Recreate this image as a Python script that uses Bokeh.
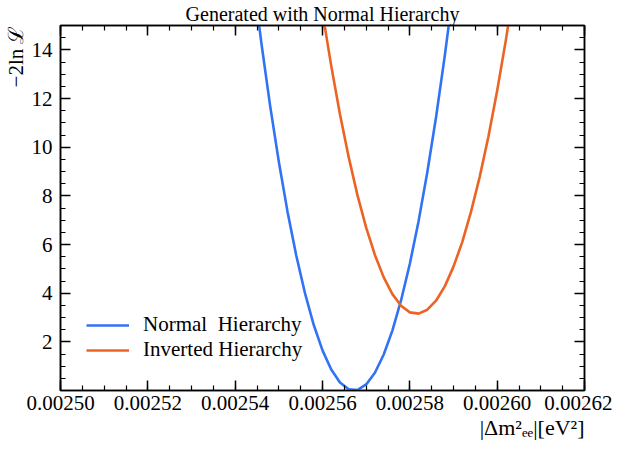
from bokeh.plotting import figure
from bokeh.models import (Range1d, FixedTicker, PrintfTickFormatter, LinearAxis,
                          Legend, LegendItem, Title)
from bokeh.embed import file_html
from bokeh.resources import INLINE

# ---- data ----
title_text = "Generated with Normal Hierarchy"
x_label = "|\u0394m\u00b2\u2091\u2091|[eV\u00b2]"
y_label = "\u22122ln \u2112"
x_ticks = [0.00250, 0.00252, 0.00254, 0.00256, 0.00258, 0.00260, 0.00262]
y_ticks = [2, 4, 6, 8, 10, 12, 14]

nh_x = [0.002540, 0.002542, 0.002544, 0.002546, 0.002548, 0.002550, 0.002552,
        0.002554, 0.002556, 0.002558, 0.002560, 0.002562, 0.002564, 0.002566,
        0.002568, 0.002570, 0.002572, 0.002574, 0.002576, 0.002578, 0.002580,
        0.002582, 0.002584, 0.002586, 0.002588, 0.002590, 0.002592, 0.002594]
nh_y = [23.51, 20.18, 17.10, 14.28, 11.71, 9.40, 7.34, 5.54, 3.99, 2.69, 1.65,
        0.86, 0.33, 0.05, 0.02, 0.25, 0.73, 1.47, 2.46, 3.71, 5.21, 6.96, 8.97,
        11.23, 13.75, 16.52, 19.54, 22.82]

ih_x = [0.002550, 0.002552, 0.002554, 0.002556, 0.002558, 0.002560, 0.002562,
        0.002564, 0.002566, 0.002568, 0.002570, 0.002572, 0.002574, 0.002576,
        0.002578, 0.002580, 0.002582, 0.002584, 0.002586, 0.002588, 0.002590,
        0.002592, 0.002594, 0.002596, 0.002598, 0.002600, 0.002602, 0.002604,
        0.002606, 0.002608]
ih_y = [29.73, 26.46, 23.41, 20.57, 17.94, 15.53, 13.34, 11.35, 9.59, 8.03, 6.69,
        5.57, 4.66, 3.96, 3.48, 3.21, 3.16, 3.32, 3.69, 4.28, 5.09, 6.10, 7.34,
        8.78, 10.44, 12.32, 14.41, 16.71, 19.23, 21.96]

series_labels = ["Normal  Hierarchy", "Inverted Hierarchy"]
BLUE = "#3273f5"
ORANGE = "#eb6424"
FONT = "Liberation Serif"

p = figure(width=612, height=445, output_backend="svg", toolbar_location=None,
           x_range=Range1d(0.00250, 0.00262), y_range=Range1d(0, 15),
           min_border_left=60, min_border_right=28, min_border_top=22,
           min_border_bottom=55, x_axis_location=None, y_axis_location=None)
p.xgrid.grid_line_color = None
p.ygrid.grid_line_color = None
p.outline_line_color = "black"
p.outline_line_width = 1.5
p.background_fill_color = "white"
p.border_fill_color = "white"

p.title.text = title_text
p.title.align = "center"
p.title.text_font = FONT
p.title.text_font_size = "20px"
p.title.text_font_style = "normal"
p.title.text_color = "black"
p.title.standoff = 1

x_minor = [0.00250 + i * 0.000005 for i in range(25)]
y_minor = [i * 0.5 for i in range(31)]


def style(ax, labels=True):
    ax.axis_line_width = 1.5
    ax.axis_line_color = "black"
    ax.major_tick_in = 10
    ax.major_tick_out = 0
    ax.minor_tick_in = 5
    ax.minor_tick_out = 0
    ax.major_tick_line_width = 1.5
    ax.minor_tick_line_width = 1.2
    ax.major_tick_line_color = "black"
    ax.minor_tick_line_color = "black"
    ax.major_label_text_font = FONT
    if labels:
        ax.major_label_text_font_size = "21px"
        ax.major_label_text_color = "black"
    else:
        ax.major_label_text_font_size = "1px"
        ax.major_label_text_color = None
        ax.major_label_standoff = 0


xb = LinearAxis(ticker=FixedTicker(ticks=x_ticks, minor_ticks=x_minor),
                formatter=PrintfTickFormatter(format="%.5f"))
style(xb)
xb.major_label_standoff = 5
p.add_layout(xb, "below")

xt = LinearAxis(ticker=FixedTicker(ticks=x_ticks, minor_ticks=x_minor))
style(xt, labels=False)
p.add_layout(xt, "above")

yl = LinearAxis(ticker=FixedTicker(ticks=y_ticks, minor_ticks=y_minor))
style(yl)
yl.major_label_standoff = 8
p.add_layout(yl, "left")

yr = LinearAxis(ticker=FixedTicker(ticks=y_ticks, minor_ticks=y_minor))
style(yr, labels=False)
p.add_layout(yr, "right")

# axis titles, aligned to the frame ends
p.add_layout(Title(text=x_label, align="right", text_font=FONT,
                   text_font_size="22px", text_font_style="normal",
                   text_color="black", standoff=0), "below")
p.add_layout(Title(text=y_label, align="right", text_font=FONT,
                   text_font_size="21px", text_font_style="normal",
                   text_color="black", standoff=2), "left")

r_nh = p.line(nh_x, nh_y, line_color=BLUE, line_width=2.6, line_join="round")
r_ih = p.line(ih_x, ih_y, line_color=ORANGE, line_width=2.6, line_join="round")

legend = Legend(items=[LegendItem(label=series_labels[0], renderers=[r_nh]),
                       LegendItem(label=series_labels[1], renderers=[r_ih])],
                location=(26, 28), padding=0, margin=0, spacing=0,
                glyph_width=43, glyph_height=22, label_height=22,
                label_standoff=14, label_text_font=FONT,
                label_text_font_size="21px", label_text_color="black",
                border_line_color=None, background_fill_alpha=0)
p.add_layout(legend)

open("out.html", "w").write(file_html(p, INLINE))
